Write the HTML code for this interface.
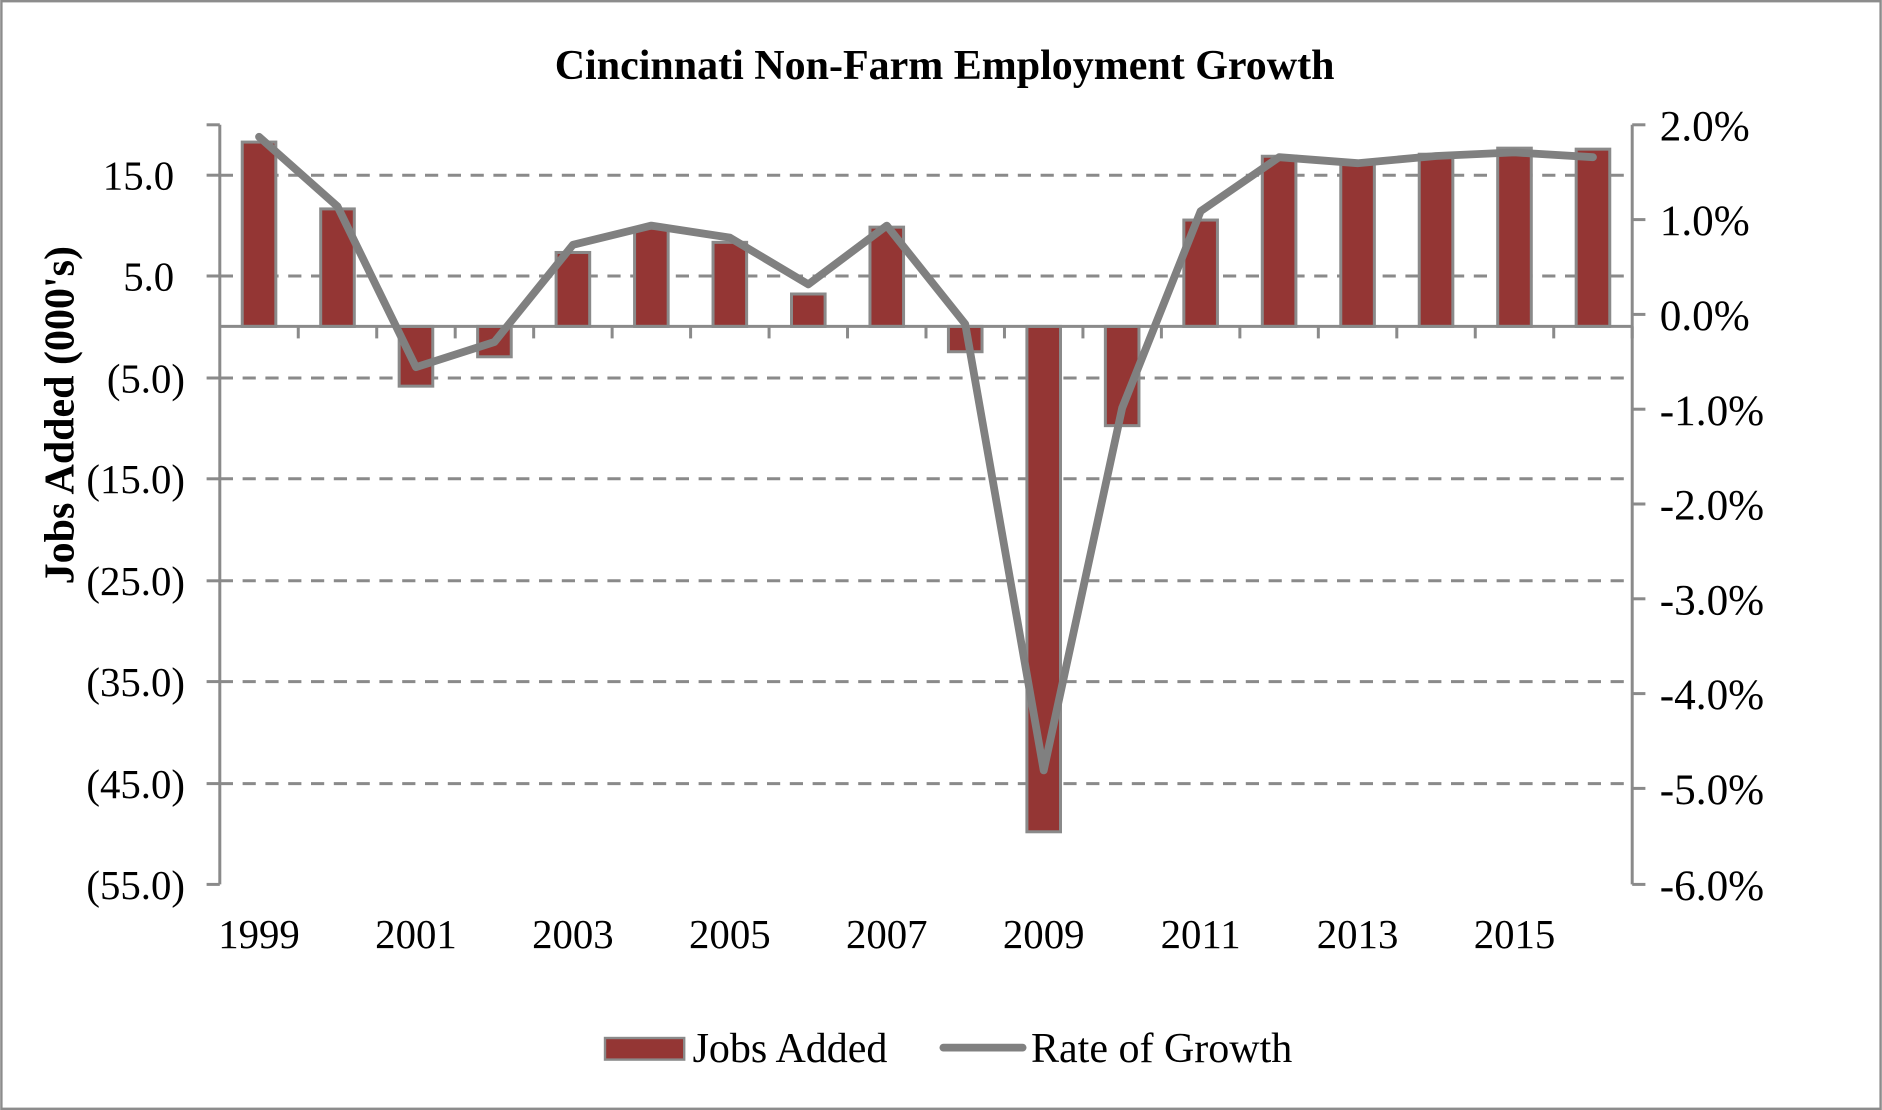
<!DOCTYPE html>
<html><head><meta charset="utf-8"><style>
html,body{margin:0;padding:0;background:#fff;}
svg{display:block;}
text{font-family:"Liberation Serif",serif;fill:#000;}
</style></head><body>
<svg width="1882" height="1110" viewBox="0 0 1568 925" xmlns="http://www.w3.org/2000/svg">
<rect x="1" y="1" width="1566" height="923" fill="#fff" stroke="#8c8c8c" stroke-width="2"/>
<text x="787" y="66" font-size="35" font-weight="bold" text-anchor="middle">Cincinnati Non-Farm Employment Growth</text>
<g stroke="#8a8a8a" stroke-width="2.5" stroke-dasharray="11,8">
<line x1="183" y1="146" x2="1358" y2="146"/>
<line x1="183" y1="230" x2="1358" y2="230"/>
<line x1="183" y1="315" x2="1358" y2="315"/>
<line x1="183" y1="399" x2="1358" y2="399"/>
<line x1="183" y1="484" x2="1358" y2="484"/>
<line x1="183" y1="568" x2="1358" y2="568"/>
<line x1="183" y1="653" x2="1358" y2="653"/>
</g>
<g stroke="#8a8a8a" stroke-width="2.5" fill="none">
<line x1="183" y1="104" x2="183" y2="737"/>
<line x1="1360" y1="104" x2="1360" y2="737"/>
<line x1="172" y1="104" x2="183" y2="104"/>
<line x1="172" y1="146" x2="183" y2="146"/>
<line x1="172" y1="230" x2="183" y2="230"/>
<line x1="172" y1="315" x2="183" y2="315"/>
<line x1="172" y1="399" x2="183" y2="399"/>
<line x1="172" y1="484" x2="183" y2="484"/>
<line x1="172" y1="568" x2="183" y2="568"/>
<line x1="172" y1="653" x2="183" y2="653"/>
<line x1="172" y1="737" x2="183" y2="737"/>
<line x1="1360" y1="104" x2="1371" y2="104"/>
<line x1="1360" y1="183" x2="1371" y2="183"/>
<line x1="1360" y1="262" x2="1371" y2="262"/>
<line x1="1360" y1="341" x2="1371" y2="341"/>
<line x1="1360" y1="420" x2="1371" y2="420"/>
<line x1="1360" y1="499" x2="1371" y2="499"/>
<line x1="1360" y1="578" x2="1371" y2="578"/>
<line x1="1360" y1="657" x2="1371" y2="657"/>
<line x1="1360" y1="737" x2="1371" y2="737"/>
</g>
<g id="bars" fill="#943634" stroke="#8a8a8a" stroke-width="2.5"></g>
<line x1="183" y1="272" x2="1360" y2="272" stroke="#8a8a8a" stroke-width="2.5"/>
<g id="ticks" stroke="#8a8a8a" stroke-width="2.5"></g>
<polyline id="line" fill="none" stroke="#808080" stroke-width="6.5" stroke-linejoin="round" stroke-linecap="round"/>
<g font-size="34" text-anchor="end">
<text x="145" y="158">15.0</text>
<text x="145" y="242">5.0</text>
<text x="154" y="327">(5.0)</text>
<text x="154" y="411">(15.0)</text>
<text x="154" y="496">(25.0)</text>
<text x="154" y="580">(35.0)</text>
<text x="154" y="665">(45.0)</text>
<text x="154" y="749">(55.0)</text>
</g>
<g font-size="36" text-anchor="start">
<text x="1383" y="117">2.0%</text>
<text x="1383" y="196">1.0%</text>
<text x="1383" y="275">0.0%</text>
<text x="1383" y="354">-1.0%</text>
<text x="1383" y="433">-2.0%</text>
<text x="1383" y="512">-3.0%</text>
<text x="1383" y="591">-4.0%</text>
<text x="1383" y="670">-5.0%</text>
<text x="1383" y="750">-6.0%</text>
</g>
<g id="xl" font-size="34" text-anchor="middle"></g>
<text transform="translate(61,346) rotate(-90)" font-size="35" font-weight="bold" text-anchor="middle">Jobs Added (000's)</text>
<rect x="504" y="865" width="66" height="18" fill="#943634" stroke="#8a8a8a" stroke-width="2"/>
<text x="577" y="885" font-size="35">Jobs Added</text>
<line x1="786" y1="873" x2="852" y2="873" stroke="#808080" stroke-width="6.5" stroke-linecap="round"/>
<text x="859" y="885" font-size="35">Rate of Growth</text>
</svg>
<script>
var ns="http://www.w3.org/2000/svg";
var vals=[18.2,11.6,-5.9,-3.0,7.3,9.7,8.3,3.2,9.8,-2.5,-49.9,-9.8,10.5,16.8,16.2,17.0,17.6,17.5];
var ly=[114,172,306,285,204,188,198,237,188,270,642,340,176,131,136,130,127,131];
var w=(1360-183)/18, pts=[];
var bars=document.getElementById('bars'),ticks=document.getElementById('ticks'),xl=document.getElementById('xl');
for(var i=0;i<18;i++){
 var cx=183+w*(i+0.5), y=272-vals[i]*8.44;
 var r=document.createElementNS(ns,'rect');
 r.setAttribute('x',cx-14);r.setAttribute('width',28);
 r.setAttribute('y',Math.min(y,272));r.setAttribute('height',Math.abs(y-272));
 bars.appendChild(r);
 pts.push(cx+','+ly[i]);
 var t=document.createElementNS(ns,'line');var tx=183+w*(i+1);
 t.setAttribute('x1',tx);t.setAttribute('x2',tx);t.setAttribute('y1',272);t.setAttribute('y2',282);
 ticks.appendChild(t);
 if(i%2==0){var tt=document.createElementNS(ns,'text');tt.setAttribute('x',cx);tt.setAttribute('y',790);tt.textContent=1999+i;xl.appendChild(tt);}
}
document.getElementById('line').setAttribute('points',pts.join(' '));
</script>
</body></html>
